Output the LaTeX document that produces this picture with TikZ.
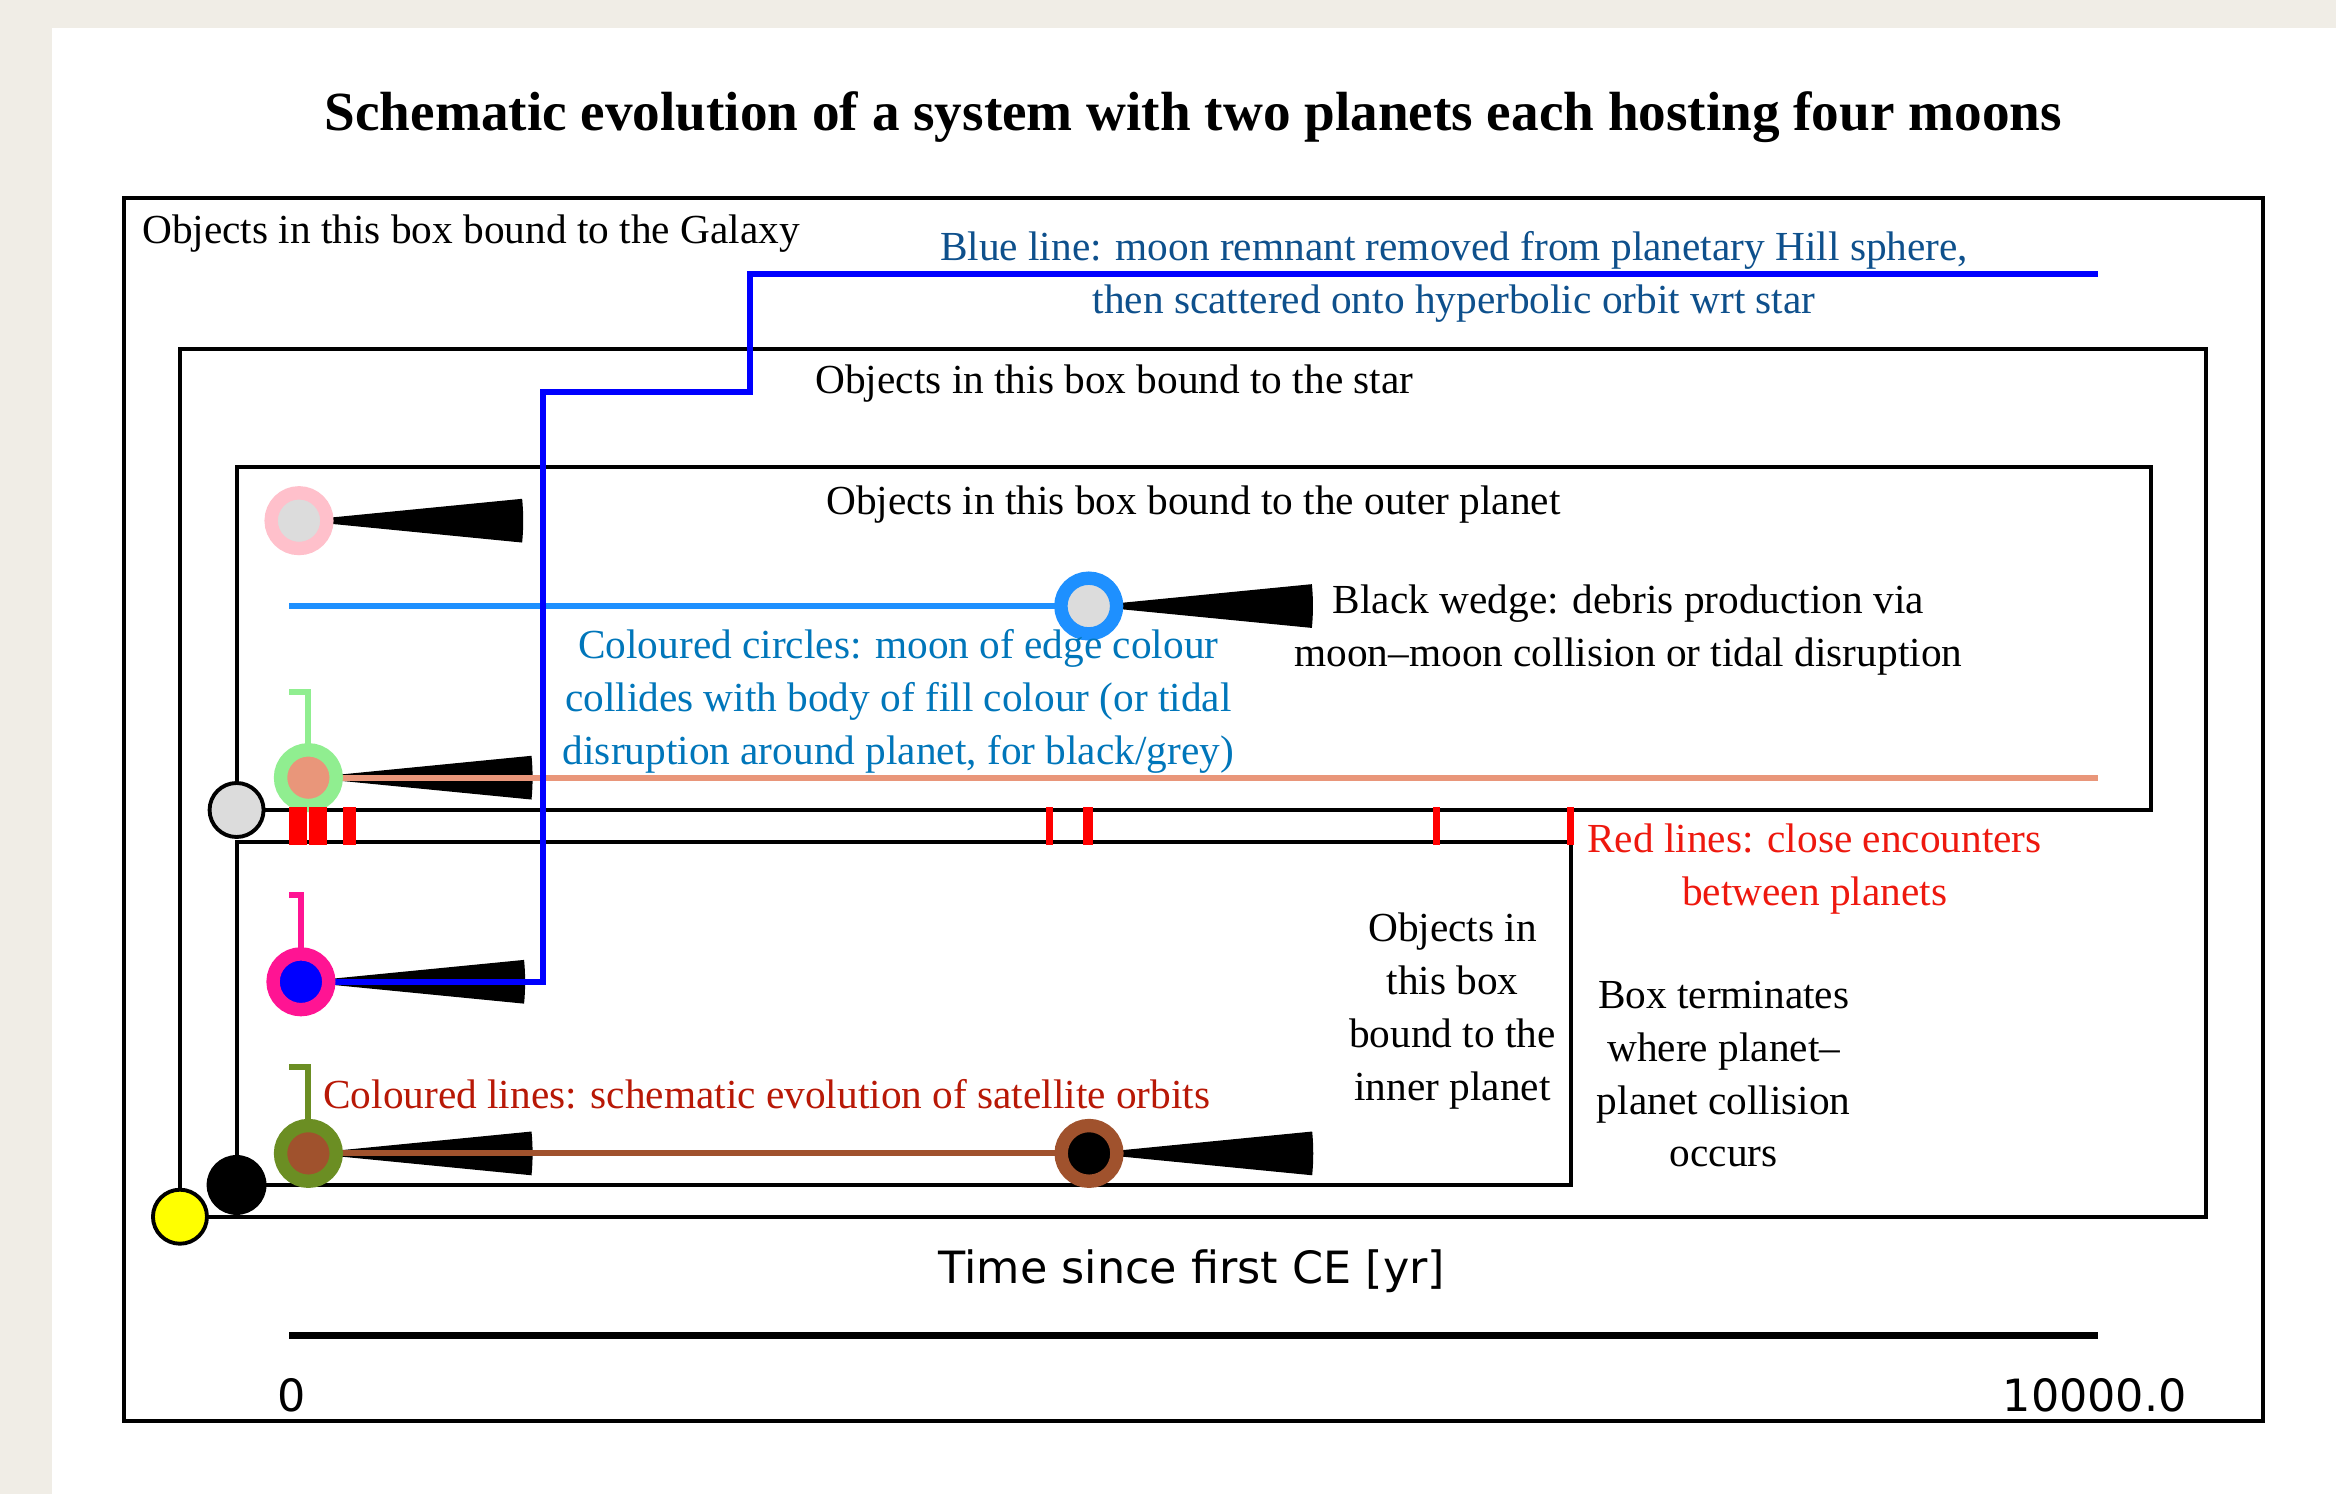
\documentclass[tikz,border=0pt]{standalone}
\usepackage{fontspec}
\setmainfont{Liberation Serif}
\newfontfamily\axisfont{DejaVu Sans}
\usetikzlibrary{backgrounds}

\definecolor{paper}{RGB}{240,237,230}
\definecolor{greyc}{RGB}{220,220,220}
\definecolor{pinkc}{RGB}{255,192,203}
\definecolor{dodger}{RGB}{30,144,255}
\definecolor{lgreen}{RGB}{144,238,144}
\definecolor{salmon}{RGB}{233,150,122}
\definecolor{dpink}{RGB}{255,20,147}
\definecolor{olive}{RGB}{107,142,35}
\definecolor{sienna}{RGB}{160,82,45}
\definecolor{remnant}{RGB}{0,0,255}
\definecolor{starc}{RGB}{255,255,0}
\definecolor{bluetxt}{RGB}{14,80,140}
\definecolor{circtxt}{RGB}{0,118,186}
\definecolor{redtxt}{RGB}{238,24,14}
\definecolor{linetxt}{RGB}{184,24,6}

\tikzset{
  box/.style={draw, line width=1.1pt},
  planet/.style={circle, draw, line width=1.1pt, inner sep=0pt, minimum size=0.54cm},
  moon/.style 2 args={circle, draw=#1, fill=#2, line width=3.8pt, inner sep=0pt, minimum size=0.557cm},
  orbit/.style={line width=1.7pt},
  note/.style={inner sep=0pt, align=center, font=\fontsize{11.75}{15}\selectfont},
  axislbl/.style={inner sep=0pt, font=\axisfont\fontsize{12.65}{15}\selectfont},
}

\begin{document}
\begin{tikzpicture}[x=0.014898cm, y=-0.014898cm]
\useasboundingbox (0,0) rectangle (1568,1003);

\node[planet, fill=starc] (star) at (120.8,816.7) {};
\node[planet, fill=greyc] (outer) at (158.8,543.7) {};
\node[planet, fill=black, minimum size=0.56cm] (inner) at (158.8,795.4) {};
\node[moon={pinkc}{greyc}] (m1) at (200.7,349.5) {};
\node[moon={dodger}{greyc}] (m2) at (730.8,406.8) {};
\node[moon={lgreen}{salmon}] (m3) at (207,522) {};
\node[moon={dpink}{remnant}] (m4) at (202,659) {};
\node[moon={olive}{sienna}] (m5) at (207,774.2) {};
\node[moon={sienna}{black}] (m6) at (731,774.2) {};

\coordinate (m2start) at (194.2,406.8);
\coordinate (m3end) at (1408,522);
\coordinate (k1) at (364.6,263.2);
\coordinate (k2) at (503.5,184);
\coordinate (m4end) at (1408,184);
\coordinate (h3) at (194.2,464.6);
\coordinate (h4) at (194.2,601);
\coordinate (h5) at (194.2,716.3);
\coordinate (t0) at (194,896.6);
\coordinate (t1) at (1408,896.6);

\foreach \a/\b in {194.2/205.9, 207.6/219.3, 230/238.8, 702/706.5, 727/733.5, 962/966.6, 1052/1056.6}
  \fill[red] (\a,541.7) rectangle (\b,567.3);

\node[font=\fontsize{15.7}{19}\selectfont\bfseries, inner sep=0pt, anchor=base] (title) at (801,87.3)
  {Schematic evolution of a system with two planets each hosting four moons};
\node[note, anchor=base west] (galaxylbl) at (95,163.3) {Objects in this box bound to the Galaxy};
\node[note, anchor=base] (starlbl) at (748,264) {Objects in this box bound to the star};
\node[note, anchor=base] (outerlbl) at (801,345.5) {Objects in this box bound to the outer planet};
\node[note] (innerlbl) at (975,678.6) {Objects in\\this box\\bound to the\\inner planet};
\node[note, text=bluetxt] (bluelbl) at (976,185.9)
  {Blue line: moon remnant removed from planetary Hill sphere,\\then scattered onto hyperbolic orbit wrt star};
\node[note, text=circtxt] (circlbl) at (603,470.9)
  {Coloured circles: moon of edge colour\\collides with body of fill colour (or tidal\\disruption around planet, for black/grey)};
\node[note] (wedgelbl) at (1093,422.8) {Black wedge: debris production via\\moon--moon collision or tidal disruption};
\node[note, text=redtxt] (redlbl) at (1218,583.5) {Red lines: close encounters\\between planets};
\node[note] (endlbl) at (1157,721.1) {Box terminates\\where planet--\\planet collision\\occurs};
\node[note, text=linetxt, anchor=base west] (linelbl) at (216.6,744) {Coloured lines: schematic evolution of satellite orbits};
\node[axislbl, anchor=base] (timelbl) at (800,861.4) {Time since first CE [yr]};
\node[axislbl, anchor=base] (tick0) at (195.5,947.6) {0};
\node[axislbl, anchor=base] (tick1) at (1406,947.6) {10000.0};

\begin{scope}[on background layer]
\fill[paper] (0,0) rectangle (1568,1003);
\fill[white] (35,19) rectangle (1568,1003);
\draw[box] (83,133) rectangle (1519,954);
\draw[box] (120.7,234) rectangle (1480.6,817);
\draw[box] (158.8,313.5) rectangle (1444,543.7);
\draw[box] (158.8,565.3) rectangle (1054.5,795.7);
\foreach \m in {m1,m2,m3,m4,m5,m6}
  \fill (\m.center) -- ++(-5.6:150.5) arc[start angle=-5.6, end angle=5.6, radius=150.5] -- cycle;
\draw[orbit, dodger] (m2start) -- (m2.center);
\draw[orbit, salmon] (m3.center) -- (m3end);
\draw[orbit, sienna] (m5.center) -- (m6.center);
\draw[orbit, lgreen] (h3) -| (m3.center);
\draw[orbit, dpink] (h4) -| (m4.center);
\draw[orbit, olive] (h5) -| (m5.center);
\draw[orbit, remnant] (m4.center) -| (k1) -| (k2) -- (m4end);
\draw[line width=2pt] (t0) -- (t1);
\end{scope}
\end{tikzpicture}
\end{document}
